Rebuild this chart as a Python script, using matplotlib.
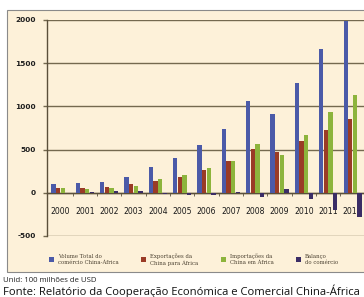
import numpy as np
import matplotlib
matplotlib.use("Agg")
import matplotlib.pyplot as plt
from matplotlib.patches import Rectangle

# Comercio China-Africa, unidade: 100 milhoes de USD
anos = ["2000", "2001", "2002", "2003", "2004", "2005", "2006",
        "2007", "2008", "2009", "2010", "2011", "2012"]
volume_total = [106, 108, 124, 185, 295, 397, 555, 736, 1068, 910, 1269, 1663, 1985]
exportacoes = [50, 60, 70, 102, 138, 186, 267, 373, 512, 477, 599, 731, 853]
importacoes = [56, 48, 54, 84, 157, 211, 288, 363, 560, 433, 670, 932, 1132]
balanco = [-6, 12, 16, 18, -19, -25, -21, 10, -48, 44, -71, -201, -279]

series = [
    ("Volume Total do\ncomércio China-África", volume_total, "#4b5aa8"),
    ("Exportações da\nChina para África", exportacoes, "#9a3b26"),
    ("Importações da\nChina em África", importacoes, "#8db43c"),
    ("Balanço\ndo comércio", balanco, "#3b2d66"),
]

BEGE = "#fdf1d9"
GRADE = "#74694f"

fig = plt.figure(figsize=(3.64, 2.97), dpi=100)
fig.patch.set_facecolor("white")

# area bege do grafico
fundo = Rectangle((7 / 364, 1 - 272 / 297), 1.0, (272 - 10) / 297,
                  transform=fig.transFigure, facecolor=BEGE,
                  edgecolor="#8a8a8a", linewidth=0.8, zorder=-5)
fig.add_artist(fundo)

ax = fig.add_axes([47 / 364, 1 - 236 / 297, 319 / 364, 216 / 297])
ax.set_facecolor("none")

x = np.arange(len(anos))
w = 0.19
for i, (nome, vals, cor) in enumerate(series):
    ax.bar(x + (i - 1.5) * w, vals, width=w * 0.92, color=cor, label=nome,
           zorder=3)

ax.set_xlim(-0.55, 12.55)
ax.set_ylim(-500, 2000)
ax.set_yticks([-500, 0, 500, 1000, 1500, 2000])
ax.set_yticklabels(["-500", "0", "500", "1000", "1500", "2000"],
                   fontsize=5.3, fontweight="bold", color="#1e1e1e")
ax.yaxis.grid(True, color=GRADE, linewidth=1.0)
ax.set_axisbelow(True)

ax.spines["top"].set_visible(False)
ax.spines["right"].set_visible(False)
ax.spines["left"].set_color("#5a4f3a")
ax.spines["left"].set_linewidth(1.0)
ax.spines["bottom"].set_position(("data", 0))
ax.spines["bottom"].set_color("#5a4f3a")
ax.spines["bottom"].set_linewidth(1.0)

ax.set_xticks(x)
ax.set_xticklabels(anos, fontsize=5.6, color="#1a1a1a")
ax.tick_params(axis="x", length=0, pad=10)
ax.set_xticks(x[:-1] + 0.5, minor=True)
ax.tick_params(axis="x", which="minor", length=2, direction="out",
               color="#5a4f3a")
ax.tick_params(axis="y", length=3, color=GRADE, width=1.0, pad=5)

leg = fig.legend(loc="lower left", bbox_to_anchor=(47 / 364, 1 - 268 / 297),
                 ncol=4, frameon=False, prop={"family": "DejaVu Serif", "size": 3.9},
                 handlelength=0.9, handleheight=1.1, handletextpad=0.7,
                 columnspacing=4.2, borderaxespad=0)
for t in leg.get_texts():
    t.set_color("#4a4030")

fig.text(3 / 364, 1 - 280 / 297, "Unid: 100 milhões de USD", fontsize=5.6,
         family="Open Sans", color="#222222", va="center")
fig.text(3 / 364, 1 - 291 / 297,
         "Fonte: Relatório da Cooperação Económica e Comercial China-África",
         fontsize=8.1, family="Open Sans", color="#111111", va="center")

fig.savefig("out.png", dpi=100, facecolor="white")
